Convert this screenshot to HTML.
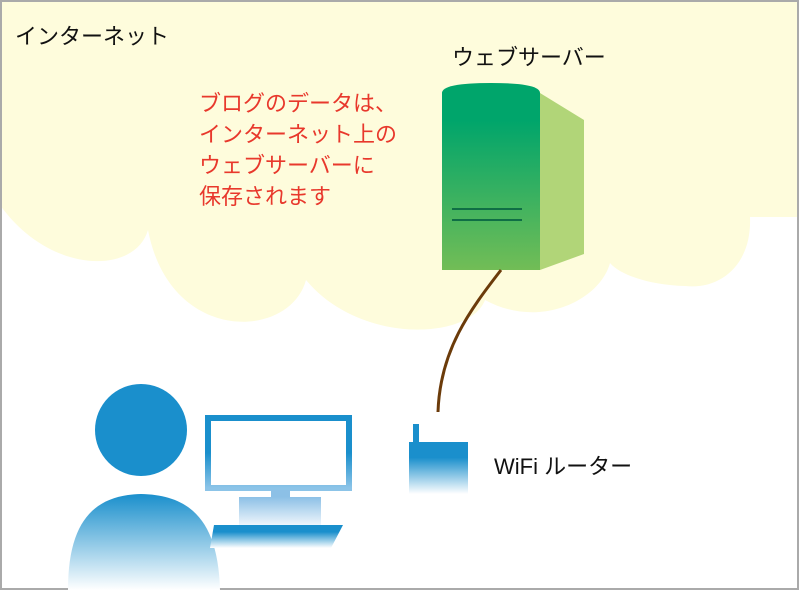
<!DOCTYPE html>
<html><head><meta charset="utf-8"><style>
body{margin:0;background:#fff}
.t{font-family:"Liberation Sans","Noto Sans CJK JP",sans-serif}
</style></head><body>
<svg width="799" height="596" viewBox="0 0 799 596" xmlns="http://www.w3.org/2000/svg">
<defs>
<linearGradient id="bl" x1="0" y1="0" x2="0" y2="1"><stop offset="0" stop-color="#1a8fcc"/><stop offset="1" stop-color="#ffffff"/></linearGradient>
<linearGradient id="bl2" x1="0" y1="0" x2="0" y2="1"><stop offset="0.3" stop-color="#1a8fcc"/><stop offset="1" stop-color="#ffffff"/></linearGradient>
<linearGradient id="mon" x1="0" y1="0" x2="0" y2="1"><stop offset="0.5" stop-color="#1a8fcc"/><stop offset="1" stop-color="#8cc4e8"/></linearGradient>
<linearGradient id="base" x1="0" y1="0" x2="0" y2="1"><stop offset="0" stop-color="#8cc0e6"/><stop offset="1" stop-color="#eef5fb"/></linearGradient>
<linearGradient id="srv" x1="0" y1="0" x2="0" y2="1"><stop offset="0.2" stop-color="#00a56b"/><stop offset="1" stop-color="#72bd56"/></linearGradient>
</defs>
<rect x="0" y="0" width="799" height="596" fill="#fff"/>
<path d="M0,0 H799 V217 L750,217 C752,265 720,290 685,286 C650,285 620,275 610,263 C600,300 540,330 485,300 C470,340 360,345 306,280 C290,340 170,345 148,230 C135,275 50,275 0,205 Z" fill="#fefcdc"/>
<rect x="1" y="1" width="797" height="588" fill="none" stroke="#aaa" stroke-width="2"/>
<text x="15" y="44" class="t" font-size="22" fill="#111">インターネット</text>
<text x="452" y="65" class="t" font-size="22" fill="#111">ウェブサーバー</text>
<g class="t" font-size="22" fill="#e8382c">
<text x="199" y="111">ブログのデータは、</text>
<text x="199" y="142">インターネット上の</text>
<text x="199" y="173">ウェブサーバーに</text>
<text x="199" y="204">保存されます</text>
</g>
<path d="M540,93 L584,120 L584,254 L540,270 Z" fill="#b1d578"/>
<path d="M442,93 Q442,83 491,83 Q540,83 540,93 L540,270 L442,270 Z" fill="url(#srv)"/>
<line x1="452" y1="209" x2="522" y2="209" stroke="#0f6e45" stroke-width="2"/>
<line x1="452" y1="220" x2="522" y2="220" stroke="#0f6e45" stroke-width="2"/>
<path d="M501,270 C470,310 440,350 438,412" fill="none" stroke="#6b3b0a" stroke-width="3"/>
<circle cx="141" cy="430" r="46" fill="#1a8fcc"/>
<path d="M68,590 C68,520 95,495 141,494 C190,495 218,520 220,590 Z" fill="url(#bl)"/>
<rect x="208" y="418" width="141" height="70" fill="#fff" stroke="url(#mon)" stroke-width="6"/>
<rect x="271" y="490" width="19" height="8" fill="#8cc0e6"/>
<rect x="239" y="497" width="82" height="28" fill="url(#base)"/>
<path d="M214,525 L343,525 L331,548 L210,548 Z" fill="url(#bl2)"/>
<rect x="413" y="424" width="6" height="20" fill="#1a8fcc"/>
<rect x="409" y="442" width="59" height="52" fill="url(#bl2)"/>
<text x="494" y="474" class="t" font-size="22" fill="#111">WiFi ルーター</text>
</svg>
</body></html>
